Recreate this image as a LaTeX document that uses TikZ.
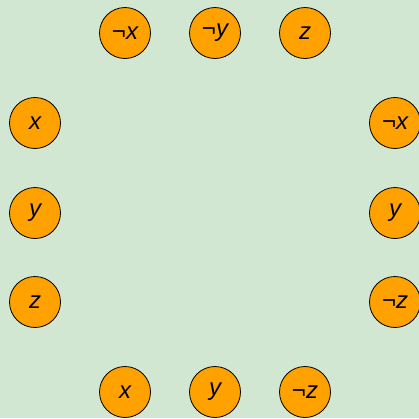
\documentclass[tikz,border=0pt]{standalone}
\usepackage{fontspec}
\setmainfont{Liberation Sans}
\definecolor{bg}{RGB}{209,231,209}
\definecolor{lit}{RGB}{255,162,0}
\begin{document}
\begin{tikzpicture}[x=1pt,y=-1pt,
  litnode/.style={circle,draw=black,line width=0.8pt,fill=lit,minimum size=51pt,inner sep=0pt,
    font=\fontsize{24}{24}\selectfont\itshape}]
\fill[bg] (0,0) rectangle (419,418);
\useasboundingbox (0,0) rectangle (419,418);
\node[litnode] (t1) at (125,33) {¬x};
\node[litnode] (t2) at (215,33) {¬y};
\node[litnode] (t3) at (305,33) {z};
\node[litnode] (l1) at (35,123) {x};
\node[litnode] (l2) at (35,213) {y};
\node[litnode] (l3) at (35,302) {z};
\node[litnode] (r1) at (395,123) {¬x};
\node[litnode] (r2) at (395,213) {y};
\node[litnode] (r3) at (395,302) {¬z};
\node[litnode] (b1) at (125,392) {x};
\node[litnode] (b2) at (215,392) {y};
\node[litnode] (b3) at (305,392) {¬z};
\end{tikzpicture}
\end{document}
